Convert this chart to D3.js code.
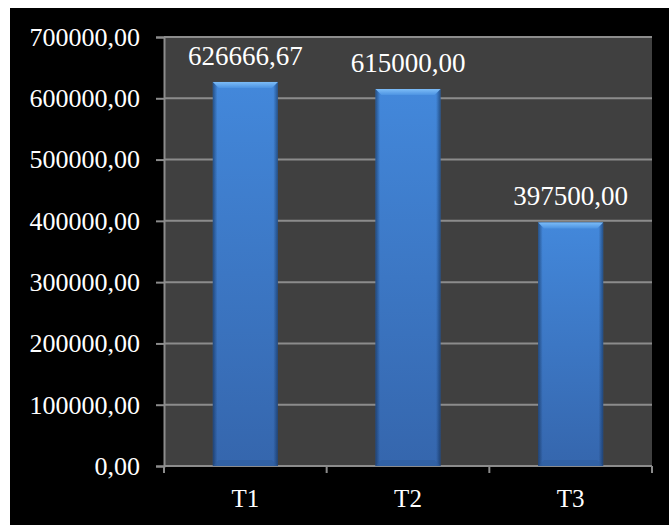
<!DOCTYPE html>
<html>
<head>
<meta charset="utf-8">
<script src="https://cdn.jsdelivr.net/npm/d3@7"></script>
<style>
  html, body { margin: 0; padding: 0; background: #ffffff; }
  svg { display: block; }
  text { font-family: "Liberation Serif", "Times New Roman", serif; fill: #ffffff; }
</style>
</head>
<body>
<svg id="chart" width="670" height="525"></svg>
<script>
// Data
const categories = ["T1", "T2", "T3"];
const values = [626666.67, 615000.00, 397500.00];
const yTicks = [0, 100000, 200000, 300000, 400000, 500000, 600000, 700000];

const W = 670, H = 525;
const plot = { left: 164, top: 37, right: 652, bottom: 466 };

const locale = d3.formatLocale({ decimal: ",", thousands: "", grouping: [3], currency: ["", ""] });
const fmt = locale.format(".2f");

const svg = d3.select("#chart");
const defs = svg.append("defs");

// Bar body shading: vertical fade plus darker side edges
const gV = defs.append("linearGradient").attr("id", "barV").attr("x1", 0).attr("y1", 0).attr("x2", 0).attr("y2", 1);
gV.append("stop").attr("offset", "0%").attr("stop-color", "#4388db");
gV.append("stop").attr("offset", "100%").attr("stop-color", "#3566ad");

const gH = defs.append("linearGradient").attr("id", "barH").attr("x1", 0).attr("y1", 0).attr("x2", 1).attr("y2", 0);
gH.append("stop").attr("offset", "0%").attr("stop-color", "#0d2546").attr("stop-opacity", 0.55);
gH.append("stop").attr("offset", "7%").attr("stop-color", "#0d2546").attr("stop-opacity", 0.0);
gH.append("stop").attr("offset", "93%").attr("stop-color", "#0d2546").attr("stop-opacity", 0.0);
gH.append("stop").attr("offset", "100%").attr("stop-color", "#0d2546").attr("stop-opacity", 0.55);

const gTop = defs.append("linearGradient").attr("id", "bevelTop").attr("x1", 0).attr("y1", 0).attr("x2", 0).attr("y2", 1);
gTop.append("stop").attr("offset", "0%").attr("stop-color", "#7cbcf7");
gTop.append("stop").attr("offset", "100%").attr("stop-color", "#4c93e2");

// Background panel
svg.append("rect").attr("x", 10).attr("y", 8).attr("width", 659).attr("height", 517).attr("fill", "#000000");

// Plot area
svg.append("rect")
  .attr("x", plot.left).attr("y", plot.top)
  .attr("width", plot.right - plot.left).attr("height", plot.bottom - plot.top)
  .attr("fill", "#404040");

const x = d3.scaleBand().domain(categories).range([plot.left, plot.right]).padding(0);
const y = d3.scaleLinear().domain([0, 700000]).range([plot.bottom, plot.top]);

// Gridlines
svg.append("g").selectAll("line").data(yTicks.filter(d => d > 0)).join("line")
  .attr("x1", plot.left).attr("x2", plot.right)
  .attr("y1", d => y(d)).attr("y2", d => y(d))
  .attr("stroke", "#8c8c8c").attr("stroke-width", 2);

// Axes
const yAxis = d3.axisLeft(y).tickValues(yTicks).tickSize(8).tickPadding(16).tickFormat(fmt);
const gy = svg.append("g").attr("transform", `translate(${plot.left},0)`).call(yAxis);
gy.select(".domain").attr("stroke", "#8c8c8c").attr("stroke-width", 2);
gy.selectAll(".tick line").attr("stroke", "#8c8c8c").attr("stroke-width", 2);
gy.selectAll(".tick text").attr("fill", "#ffffff").attr("font-size", 26)
  .attr("font-family", "Liberation Serif, Times New Roman, serif").attr("dy", "0.32em");

const xAxis = d3.axisBottom(x).tickSize(0).tickPadding(28);
const gx = svg.append("g").attr("transform", `translate(0,${plot.bottom})`).call(xAxis);
gx.select(".domain").remove();
gx.selectAll(".tick line").remove();
gx.selectAll(".tick text").attr("fill", "#ffffff").attr("font-size", 25)
  .attr("font-family", "Liberation Serif, Times New Roman, serif").attr("dy", "0.5em");

// Category boundary ticks on the x axis
const bounds = categories.map(c => x(c)).concat([plot.right]);
svg.append("line").attr("x1", plot.left).attr("x2", plot.right)
  .attr("y1", plot.bottom).attr("y2", plot.bottom)
  .attr("stroke", "#8c8c8c").attr("stroke-width", 2);
svg.append("g").selectAll("line").data(bounds).join("line")
  .attr("x1", d => d).attr("x2", d => d)
  .attr("y1", plot.bottom).attr("y2", plot.bottom + 7)
  .attr("stroke", "#8c8c8c").attr("stroke-width", 2);

// Bars
const barFrac = 0.4;
const bw = x.bandwidth() * barFrac;
const bars = svg.append("g").selectAll("g").data(categories.map((c, i) => ({ c, v: values[i] }))).join("g");
const bx = d => x(d.c) + (x.bandwidth() - bw) / 2;

bars.append("rect")
  .attr("x", bx).attr("y", d => y(d.v))
  .attr("width", bw).attr("height", d => y(0) - y(d.v))
  .attr("fill", "url(#barV)");
bars.append("rect")
  .attr("x", bx).attr("y", d => y(d.v))
  .attr("width", bw).attr("height", d => y(0) - y(d.v))
  .attr("fill", "url(#barH)");
// Top bevel
const bev = 6;
bars.append("path")
  .attr("d", d => {
    const x0 = bx(d), x1 = x0 + bw, t = y(d.v);
    return `M${x0},${t}L${x1},${t}L${x1 - bev},${t + bev}L${x0 + bev},${t + bev}Z`;
  })
  .attr("fill", "url(#bevelTop)");
// Bottom bevel (slightly darker)
bars.append("path")
  .attr("d", d => {
    const x0 = bx(d), x1 = x0 + bw, b = y(0);
    return `M${x0},${b}L${x1},${b}L${x1 - bev},${b - bev}L${x0 + bev},${b - bev}Z`;
  })
  .attr("fill", "#2f5d9e").attr("opacity", 0.6);

// Value labels
bars.append("text")
  .attr("x", d => x(d.c) + x.bandwidth() / 2)
  .attr("y", d => y(d.v) - 17)
  .attr("text-anchor", "middle")
  .attr("font-size", 27)
  .text(d => fmt(d.v));
</script>
</body>
</html>
